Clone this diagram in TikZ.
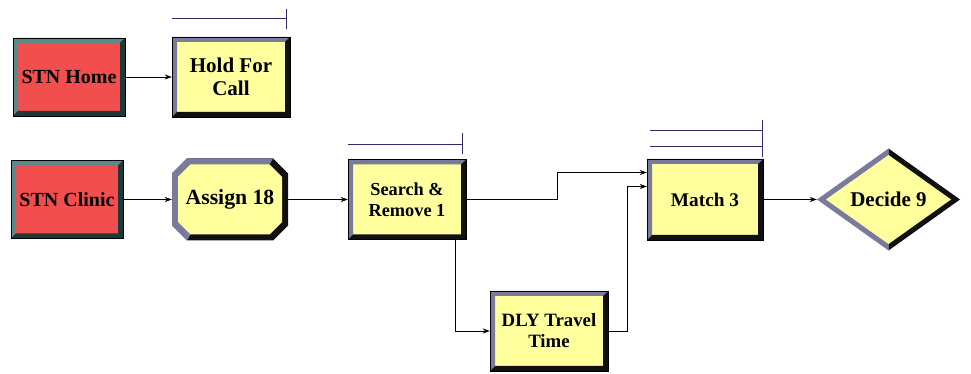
\documentclass[tikz,border=0pt]{standalone}
\usepackage{fontspec}
\setmainfont{Liberation Serif}
\usetikzlibrary{positioning,calc,arrows.meta}

\definecolor{stnred}{HTML}{F24E4E}
\definecolor{stnlite}{HTML}{5C8A8A}
\definecolor{stndark}{HTML}{1C3838}
\definecolor{blkfill}{HTML}{FFFF9E}
\definecolor{blklite}{HTML}{7A7A9C}
\definecolor{blkdark}{HTML}{101010}
\definecolor{queue}{HTML}{2C2C6C}

\tikzset{
  bevelbox/.style n args={3}{rectangle, draw=black, line width=0.4pt, fill=#1,
    inner sep=0pt, align=center,
    path picture={
      \coordinate (sw) at (path picture bounding box.south west);
      \coordinate (se) at (path picture bounding box.south east);
      \coordinate (nw) at (path picture bounding box.north west);
      \coordinate (ne) at (path picture bounding box.north east);
      \fill[#2] (sw) -- (nw) -- (ne) -- ([shift={(-5pt,-5pt)}]ne) -- ([shift={(5pt,-5pt)}]nw)
        -- ([shift={(5pt,5pt)}]sw) -- cycle;
      \fill[#3] (sw) -- (se) -- (ne) -- ([shift={(-5pt,-5pt)}]ne) -- ([shift={(-5pt,5pt)}]se)
        -- ([shift={(5pt,5pt)}]sw) -- cycle;
    }},
  redbox/.style={bevelbox={stnred}{stnlite}{stndark}, minimum width=112pt, minimum height=78pt},
  yelbox/.style={bevelbox={blkfill}{blklite}{blkdark}, minimum width=118pt, minimum height=80pt},
  % chamfered block
  octbox/.style={rectangle, fill=white, inner sep=0pt, align=center,
    minimum width=116pt, minimum height=82pt,
    path picture={
      \coordinate (sw) at (path picture bounding box.south west);
      \coordinate (se) at (path picture bounding box.south east);
      \coordinate (nw) at (path picture bounding box.north west);
      \coordinate (ne) at (path picture bounding box.north east);
      \fill[blkdark] ([xshift=15pt]sw) -- ([xshift=-15pt]se) -- ([yshift=15pt]se) -- ([yshift=-15pt]ne)
        -- ([xshift=-15pt]ne) -- ([xshift=15pt]nw) -- ([yshift=-15pt]nw) -- ([yshift=15pt]sw) -- cycle;
      \fill[blklite] ([xshift=-15pt]ne) -- ([xshift=15pt]nw) -- ([yshift=-15pt]nw) -- ([yshift=15pt]sw)
        -- ([xshift=15pt]sw) -- ([shift={(18.5pt,6pt)}]sw) -- ([shift={(-18.5pt,-6pt)}]ne) -- cycle;
      \fill[blkfill] ([shift={(18.5pt,6pt)}]sw) -- ([shift={(-18.5pt,6pt)}]se) -- ([shift={(-6pt,18.5pt)}]se)
        -- ([shift={(-6pt,-18.5pt)}]ne) -- ([shift={(-18.5pt,-6pt)}]ne) -- ([shift={(18.5pt,-6pt)}]nw)
        -- ([shift={(6pt,-18.5pt)}]nw) -- ([shift={(6pt,18.5pt)}]sw) -- cycle;
    }},
  % decision diamond
  diabox/.style={rectangle, fill=white, inner sep=0pt, align=center,
    minimum width=143pt, minimum height=102pt,
    path picture={
      \coordinate (w) at (path picture bounding box.west);
      \coordinate (n) at (path picture bounding box.north);
      \coordinate (e) at (path picture bounding box.east);
      \coordinate (s) at (path picture bounding box.south);
      \fill[blklite] (w) -- (n) -- (s) -- cycle;
      \fill[blkdark] (n) -- (e) -- (s) -- cycle;
      \fill[blkfill] ([xshift=9pt]w) -- ([yshift=-6.5pt]n) -- ([xshift=-9pt]e) -- ([yshift=6.5pt]s) -- cycle;
    }},
  lbl/.style 2 args={font=\bfseries\fontsize{#1}{#2}\selectfont},
  flow/.style={-{Stealth[length=7pt,width=5pt]}, line width=0.8pt},
  qline/.style={draw=queue, line width=1.2pt}
}

\begin{document}
\begin{tikzpicture}[x=1pt,y=1pt]
    \useasboundingbox (0,0) rectangle (971,374);

    % Blocks
    \node[redbox, lbl={20}{23}] (home) at (69,297) {STN Home};
    \node[yelbox, lbl={21}{23}] (hold) at (231,297) {Hold For\\Call};
    \node[redbox, lbl={20}{23}] (clinic) at (67,174.5) {STN Clinic};
    \node[octbox, lbl={21.7}{24}] (assign) at (230,174.5) {Assign 18};
    \node[yelbox, lbl={18.3}{21}] (search) at (407,174.5) {Search \&\\Remove 1};
    \node[yelbox, lbl={18.8}{21}] (dly) at (549,43) {DLY Travel\\Time};
    \node[yelbox, lbl={19.3}{22}, minimum width=116pt, minimum height=81pt] (match) at (705,174.5) {Match 3};
    \node[diabox, lbl={21}{24}] (decide) at (888.5,174.5) {Decide 9};

    % Queues
    \draw[qline] ([yshift=18pt]hold.north west) -- ([shift={(-4pt,18pt)}]hold.north east);
    \draw[qline] ([shift={(-4pt,28pt)}]hold.north east) -- ([shift={(-4pt,8pt)}]hold.north east);
    \draw[qline] ([yshift=15pt]search.north west) -- ([shift={(-4pt,15pt)}]search.north east);
    \draw[qline] ([shift={(-4pt,26pt)}]search.north east) -- ([shift={(-4pt,5pt)}]search.north east);
    \draw[qline] ([shift={(3pt,28pt)}]match.north west) -- ([shift={(-1pt,28pt)}]match.north east);
    \draw[qline] ([shift={(3pt,12pt)}]match.north west) -- ([shift={(-1pt,12pt)}]match.north east);
    \draw[qline] ([shift={(-1pt,39pt)}]match.north east) -- ([shift={(-1pt,2pt)}]match.north east);

    % Connectors
    \draw[flow] (home.east) -- (hold.west);
    \draw[flow] (clinic.east) -- (assign.west);
    \draw[flow] (assign.east) -- (search.west);
    \draw[flow] (search.east) -- ++(91,0) |- ([yshift=27pt]match.west);
    \draw[flow] ([xshift=48pt]search.south) |- (dly.west);
    \draw[flow] (dly.east) -- ++(19,0) |- ([yshift=13pt]match.west);
    \draw[flow] (match.east) -- (decide.west);

\end{tikzpicture}
\end{document}
